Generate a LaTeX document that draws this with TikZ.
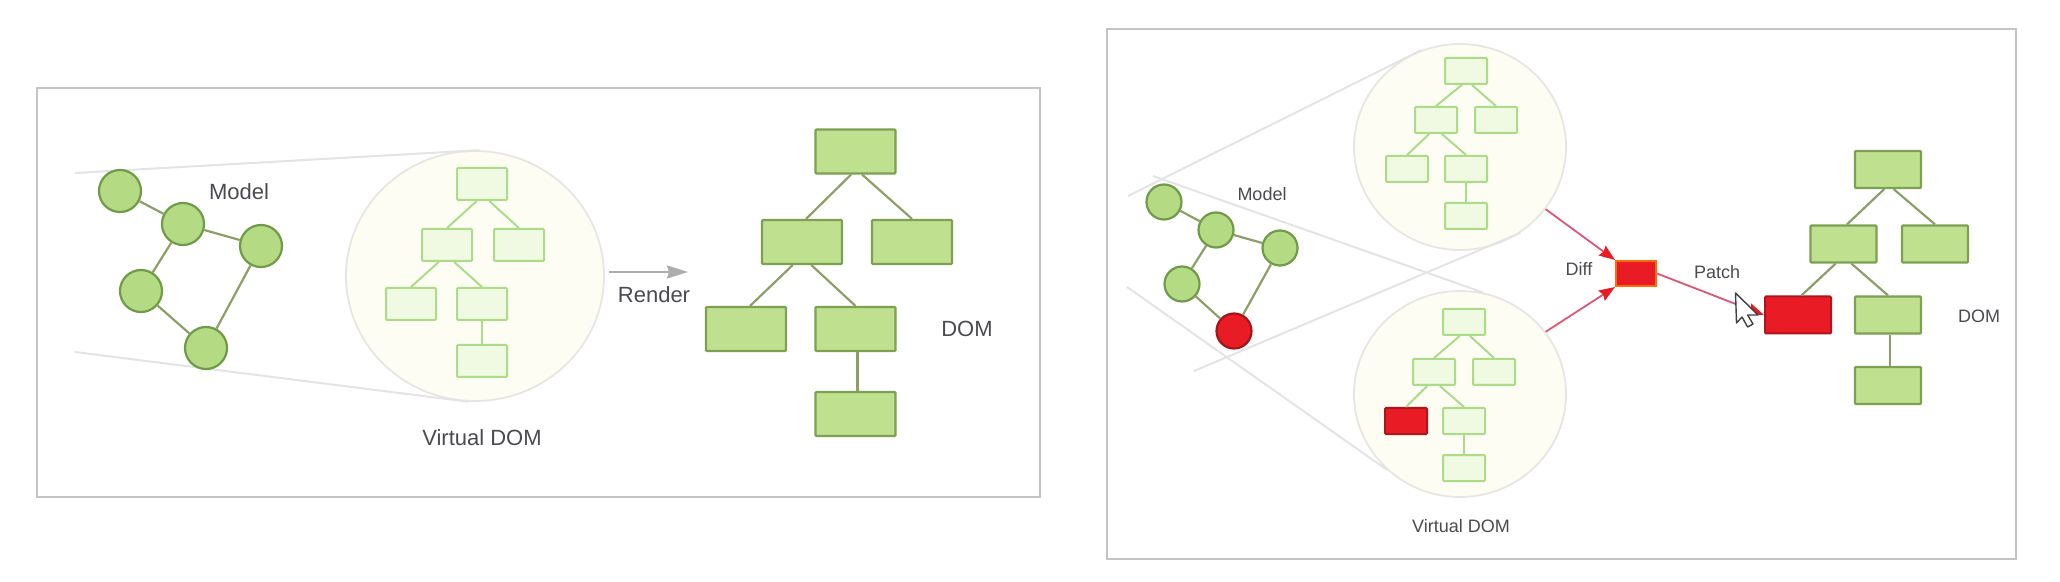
\documentclass[tikz,border=0pt]{standalone}
\usepackage{fontspec}
\setmainfont{Liberation Sans}
\usetikzlibrary{arrows.meta, shapes.geometric}
\definecolor{framegray}{HTML}{C4C4C4}
\definecolor{arrowgray}{HTML}{ADADAD}
\definecolor{conegray}{HTML}{E4E4E6}
\definecolor{labelgray}{HTML}{4A4A50}
\definecolor{modelfill}{HTML}{B4DB84}
\definecolor{modeldraw}{HTML}{6F9A48}
\definecolor{domfill}{HTML}{BFE18F}
\definecolor{domdraw}{HTML}{7DA052}
\definecolor{edgegreen}{HTML}{8B9F66}
\definecolor{virtfill}{HTML}{F0F9E2}
\definecolor{virtdraw}{HTML}{ABDD88}
\definecolor{bubblefill}{HTML}{FDFDF4}
\definecolor{bubbledraw}{HTML}{E8E6E2}
\definecolor{patchred}{HTML}{E91C26}
\definecolor{patchline}{HTML}{DF5575}

\begin{document}
\begin{tikzpicture}[x=0.5pt, y=-0.5pt, >={Stealth[length=8pt, width=6pt, inset=1pt, color=patchred]}]
	\tikzstyle{panel} = [draw=framegray, line width=0.75pt]
	\tikzstyle{cone} = [draw=conegray, line width=1pt]
	\tikzstyle{bubble} = [draw=bubbledraw, line width=0.9pt, fill=bubblefill, ellipse, inner sep=0pt]
	\tikzstyle{edge} = [draw=edgegreen, line width=1.1pt]
	\tikzstyle{patch} = [->, draw=patchline, line width=0.9pt]
	\tikzstyle{label} = [text=labelgray, inner sep=0pt]
	\tikzstyle{bigtext} = [label, font=\fontsize{11}{13}\selectfont]
	\tikzstyle{smalltext} = [label, font=\fontsize{9}{11}\selectfont]
	\tikzstyle{model} = [circle, draw=modeldraw, fill=modelfill, line width=1.1pt, inner sep=0pt]
	\tikzstyle{bigmodel} = [model, minimum size=21pt]
	\tikzstyle{smallmodel} = [model, minimum size=17.5pt]
	\tikzstyle{virt} = [draw=virtdraw, fill=virtfill, line width=1pt, inner sep=0pt, rounded corners=0.5pt]
	\tikzstyle{bigvirt} = [virt, minimum width=25pt, minimum height=16pt]
	\tikzstyle{smallvirt} = [virt, minimum width=21pt, minimum height=13pt]
	\tikzstyle{dom} = [draw=domdraw, fill=domfill, line width=1.1pt, inner sep=0pt, rounded corners=0.5pt]
	\tikzstyle{bigdom} = [dom, minimum width=40pt, minimum height=22pt]
	\tikzstyle{smalldom} = [dom, minimum width=33pt, minimum height=18.5pt]
	\tikzstyle{redbox} = [draw=patchred!75!black, fill=patchred, line width=1pt, inner sep=0pt]

	\useasboundingbox (0,0) rectangle (2060,582);
	\draw[panel] (37,88) rectangle (1040,497);
	\draw[panel] (1107,29) rectangle (2016,559);

	% free ends of the zoom lines
	\coordinate (leftA) at (75,173);
	\coordinate (leftB) at (75,352);
	\coordinate (upA) at (1128,196);
	\coordinate (upB) at (1194,371);
	\coordinate (lowA) at (1153,176);
	\coordinate (lowB) at (1127,287);
	\coordinate (renderEnd) at (688,272);

	% left panel
	\path
		node[bubble, minimum width=129pt, minimum height=125pt] (bigV) at (475,276) {}
		node[bubble, minimum width=106pt, minimum height=103pt] (upV) at (1460,147) {}
		node[bubble, minimum width=106pt, minimum height=103pt] (lowV) at (1460,394) {}
	;
	\draw[cone] (leftA) -- (bigV.88);
	\draw[cone] (leftB) -- (bigV.-93);
	\draw[cone] (upA) -- (upV.112);
	\draw[cone] (upB) -- (upV.-55);
	\draw[cone] (lowA) -- (lowV.77);
	\draw[cone] (lowB) -- (lowV.-134);

	\path
		node[bigmodel] (m1) at (120,191) {}
		node[bigmodel] (m2) at (183,224) {}
		node[bigmodel] (m3) at (261,246) {}
		node[bigmodel] (m4) at (141,291) {}
		node[bigmodel] (m5) at (206,348) {}
	;
	\draw[edge] (m1) -- (m2);
	\draw[edge] (m2) -- (m3);
	\draw[edge] (m2) -- (m4);
	\draw[edge] (m4) -- (m5);
	\draw[edge] (m3) -- (m5);

	\path
		node[bigvirt] (v1) at (482,184) {}
		node[bigvirt] (v2) at (447,245) {}
		node[bigvirt] (v3) at (519,245) {}
		node[bigvirt] (v4) at (411,304) {}
		node[bigvirt] (v5) at (482,304) {}
		node[bigvirt] (v6) at (482,361) {}
	;
	\draw[virtdraw, line width=1pt] (v1.253) -- (v2.north);
	\draw[virtdraw, line width=1pt] (v1.293) -- (v3.north);
	\draw[virtdraw, line width=1pt] (v2.244) -- (v4.north);
	\draw[virtdraw, line width=1pt] (v2.293) -- (v5.north);
	\draw[virtdraw, line width=1pt] (v5.south) -- (v6.north);

	\path
		node[bigdom] (d1) at (855.5,151.5) {}
		node[bigdom] (d2) at (802,242) {}
		node[bigdom] (d3) at (912,242) {}
		node[bigdom] (d4) at (746,329) {}
		node[bigdom] (d5) at (855.5,329) {}
		node[bigdom] (d6) at (855.5,414) {}
	;
	\draw[edge] (d1.259) -- (d2.80);
	\draw[edge] (d1.286) -- (d3.north);
	\draw[edge] (d2.248) -- (d4.80);
	\draw[edge] (d2.292) -- (d5.north);
	\draw[edge] (d5.-85) -- (d6.85);

	\draw[-{Stealth[length=10.5pt, width=6.5pt, inset=1pt]}, draw=arrowgray, line width=0.9pt, shorten <=2pt] (bigV.east |- renderEnd) -- (renderEnd);

	\path
		node[bigtext] (modelL) at (239,192) {Model}
		node[bigtext] (virtualL) at (482,438) {Virtual DOM}
		node[bigtext] (renderL) at (654,295) {Render}
		node[bigtext] (domL) at (967,329) {DOM}
	;

	% right panel
	\path
		node[smallmodel] (n1) at (1164,202) {}
		node[smallmodel] (n2) at (1216,230) {}
		node[smallmodel] (n3) at (1280,248) {}
		node[smallmodel] (n4) at (1182,284) {}
		node[smallmodel, fill=patchred, draw=patchred!70!black] (n5) at (1234,331) {}
	;
	\draw[edge] (n1) -- (n2);
	\draw[edge] (n2) -- (n3);
	\draw[edge] (n2) -- (n4);
	\draw[edge] (n4) -- (n5);
	\draw[edge] (n3) -- (n5);

	\path
		node[smallvirt] (u1) at (1466,71) {}
		node[smallvirt] (u2) at (1436,120) {}
		node[smallvirt] (u3) at (1496,120) {}
		node[smallvirt] (u4) at (1407,169) {}
		node[smallvirt] (u5) at (1466,169) {}
		node[smallvirt] (u6) at (1466,216) {}
	;
	\draw[virtdraw, line width=1pt] (u1.253) -- (u2.north);
	\draw[virtdraw, line width=1pt] (u1.293) -- (u3.north);
	\draw[virtdraw, line width=1pt] (u2.244) -- (u4.north);
	\draw[virtdraw, line width=1pt] (u2.293) -- (u5.north);
	\draw[virtdraw, line width=1pt] (u5.south) -- (u6.north);

	\path
		node[smallvirt] (w1) at (1464,322) {}
		node[smallvirt] (w2) at (1434,372) {}
		node[smallvirt] (w3) at (1494,372) {}
		node[smallvirt, redbox] (w4) at (1406,421) {}
		node[smallvirt] (w5) at (1464,421) {}
		node[smallvirt] (w6) at (1464,468) {}
	;
	\draw[virtdraw, line width=1pt] (w1.253) -- (w2.north);
	\draw[virtdraw, line width=1pt] (w1.293) -- (w3.north);
	\draw[virtdraw, line width=1pt] (w2.244) -- (w4.north);
	\draw[virtdraw, line width=1pt] (w2.293) -- (w5.north);
	\draw[virtdraw, line width=1pt] (w5.south) -- (w6.north);

	\path
		node[smalldom] (r1) at (1888,169.5) {}
		node[smalldom] (r2) at (1843.5,244) {}
		node[smalldom] (r3) at (1935,244) {}
		node[smalldom, redbox] (r4) at (1798,315) {}
		node[smalldom] (r5) at (1888,315) {}
		node[smalldom] (r6) at (1888,385.5) {}
	;
	\draw[edge] (r1.259) -- (r2.80);
	\draw[edge] (r1.286) -- (r3.north);
	\draw[edge] (r2.248) -- (r4.80);
	\draw[edge] (r2.292) -- (r5.north);
	\draw[edge] (r5.-85) -- (r6.85);

	\node[redbox, draw=orange!80!patchred, minimum width=20pt, minimum height=12.5pt] (diff) at (1636,273.5) {};
	\draw[patch] (upV.-36) -- (diff.north west);
	\draw[patch] (lowV.36) -- (diff.south west);
	\draw[patch] (diff.east) -- (r4.west);

	% mouse pointer
	\draw[draw=black!75, fill=white, line width=0.7pt, line join=round] (1735.5,293) -- (1736.5,323) -- (1742,317) -- (1747.6,327) -- (1753,324) -- (1747.6,315) -- (1758,315) -- cycle;

	\path
		node[smalltext] (modelR) at (1262,194) {Model}
		node[smalltext] (virtualR) at (1461,526) {Virtual DOM}
		node[smalltext] (diffL) at (1579,269) {Diff}
		node[smalltext] (patchL) at (1717,272) {Patch}
		node[smalltext] (domR) at (1979,316) {DOM}
	;
\end{tikzpicture}
\end{document}
